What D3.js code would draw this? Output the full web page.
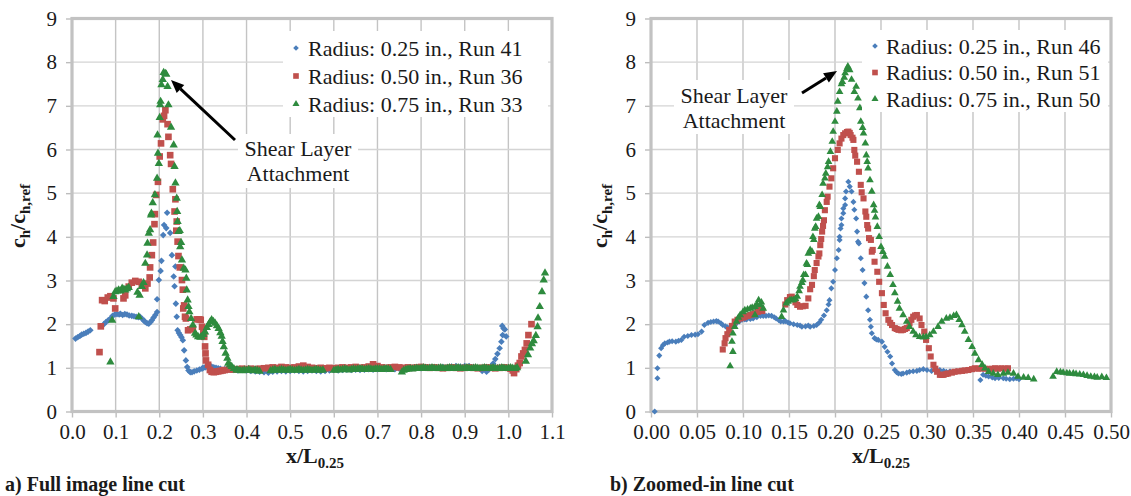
<!DOCTYPE html>
<html><head><meta charset="utf-8">
<script src="https://cdn.jsdelivr.net/npm/d3@7"></script>
<style>
body{margin:0;background:#fff}
svg{display:block}
text{font-family:"Liberation Serif","Tinos","Times New Roman","Times","Nimbus Roman","DejaVu Serif",serif;fill:#1a1a1a}
</style></head>
<body><svg id="chart" width="1131" height="496"></svg>
<script>
// ---------------- DATA ----------------
const seriesNamesA = ["Radius: 0.25 in., Run 41","Radius: 0.50 in., Run 36","Radius: 0.75 in., Run 33"];
const seriesNamesB = ["Radius: 0.25 in., Run 46","Radius: 0.50 in., Run 51","Radius: 0.75 in., Run 50"];
const xTicksA = [0,0.1,0.2,0.3,0.4,0.5,0.6,0.7,0.8,0.9,1.0,1.1];
const xTicksB = [0,0.05,0.10,0.15,0.20,0.25,0.30,0.35,0.40,0.45,0.50];
const yTicks = [0,1,2,3,4,5,6,7,8,9];
const xTitle = "x/L", xTitleSub = "0.25";
const captionA = "a) Full image line cut", captionB = "b) Zoomed-in line cut";
const annotationLines = ["Shear Layer","Attachment"];

const leftBlue = [[0.008,1.67],[0.013,1.70],[0.018,1.73],[0.022,1.76],[0.027,1.78],[0.032,1.80],[0.037,1.83],[0.042,1.86],
[0.073,2.00],[0.078,2.05],[0.083,2.09],[0.088,2.13],[0.093,2.19],[0.098,2.22],[0.103,2.23],[0.108,2.22],[0.111,2.24],[0.116,2.21],[0.121,2.23],[0.126,2.22],[0.131,2.20],[0.137,2.19],[0.142,2.18],[0.147,2.17],[0.152,2.16],[0.156,2.17],[0.161,2.12],[0.165,2.08],[0.168,2.05],[0.172,2.02],[0.176,2.01],[0.180,2.05],[0.183,2.09],[0.187,2.15],[0.191,2.21],[0.195,2.28],
[0.195,2.57],[0.199,3.01],[0.203,3.22],[0.205,3.45],[0.209,4.04],[0.211,4.27],[0.216,4.20],[0.218,4.55],[0.225,4.09],[0.229,3.58],[0.233,3.09],[0.235,2.87],[0.237,3.32],[0.238,2.47],[0.240,2.17],[0.242,1.86],[0.245,1.80],[0.248,1.75],[0.251,1.70],[0.254,1.63],[0.257,1.40],[0.261,1.17],[0.264,1.02],[0.267,0.94],[0.271,0.90],[0.275,0.90],[0.280,0.92],[0.286,0.94],[0.292,0.96],[0.298,0.98],
[0.30,1.00],[0.305,1.01],[0.31,1.02],[0.315,1.03],[0.32,1.03],[0.325,1.01],[0.33,1.00],[0.335,0.99],[0.34,0.98],[0.35,0.97],[0.36,0.96],[0.37,0.95],[0.38,0.94],[0.39,0.95],[0.40,0.94],[0.41,0.93],[0.42,0.92],[0.43,0.91],[0.44,0.90],[0.45,0.89],[0.46,0.91],[0.47,0.92],[0.48,0.93],[0.49,0.92],[0.50,0.93],[0.51,0.94],[0.52,0.93],[0.53,0.92],[0.54,0.93],[0.55,0.94],[0.56,0.93],[0.57,0.92],[0.58,0.93],[0.59,0.94],[0.60,0.95],[0.61,0.94],[0.62,0.95],[0.63,0.96],[0.64,0.95],[0.65,0.96],[0.66,0.95],[0.67,0.96],[0.68,0.97],[0.69,0.96],[0.70,0.97],[0.71,0.98],[0.72,0.97],[0.73,0.98],[0.74,0.97],[0.75,0.98],[0.76,0.99],[0.77,0.98],[0.78,0.99],[0.79,1.00],[0.80,0.99],[0.81,1.00],[0.82,1.01],[0.83,1.00],[0.84,1.01],[0.85,1.02],[0.86,1.01],[0.87,1.03],[0.88,1.04],[0.89,1.03],[0.90,1.04],[0.91,1.04],[0.92,1.02],[0.93,1.00],[0.94,0.93],[0.95,0.91],[0.955,0.96],[0.96,1.02],[0.965,1.10],[0.97,1.20],[0.975,1.32],[0.98,1.45],[0.984,1.60],[0.987,1.75],[0.989,1.90],[0.986,1.96],[0.992,1.88],[0.995,1.72]];

const leftRed = [[0.063,1.36],[0.066,1.95],[0.069,2.55],[0.075,2.53],[0.082,2.61],[0.088,2.64],[0.095,2.59],[0.099,2.36],[0.118,2.59],[0.122,2.66],[0.130,2.86],[0.137,2.95],[0.145,2.99],[0.153,2.97],[0.160,2.89],[0.168,2.82],[0.173,2.93],[0.178,3.07],[0.179,3.30],[0.183,3.58],[0.186,3.87],[0.189,4.29],[0.190,4.52],[0.193,4.96],[0.197,5.26],[0.201,5.84],[0.204,6.14],[0.208,6.69],[0.211,6.77],[0.214,6.90],[0.219,6.58],[0.221,6.29],[0.225,5.87],[0.227,5.67],[0.231,5.09],[0.235,4.58],[0.237,4.86],[0.239,4.14],[0.240,4.35],[0.242,3.89],[0.244,3.56],[0.247,3.30],[0.252,3.01],[0.254,2.79],[0.255,2.36],[0.257,2.43],[0.259,2.17],[0.261,2.13],[0.266,1.86],[0.271,1.88],[0.277,1.90],[0.286,2.11],[0.292,2.11],[0.295,2.10],[0.298,1.94],[0.301,1.79],[0.303,1.71],[0.305,1.49],[0.306,1.33],[0.307,1.17],[0.312,1.07],[0.316,0.95],[0.320,0.91],
[0.325,0.90],[0.33,0.91],[0.335,0.92],[0.34,0.93],[0.345,0.94],[0.35,0.95],[0.36,0.96],[0.37,0.96],[0.38,0.97],[0.39,0.98],[0.40,0.97],[0.41,0.98],[0.42,0.97],[0.43,0.98],[0.44,0.99],[0.45,1.00],[0.46,1.01],[0.47,1.00],[0.48,1.02],[0.49,1.01],[0.50,1.00],[0.51,1.01],[0.52,1.03],[0.53,1.05],[0.54,1.02],[0.55,1.00],[0.56,0.99],[0.57,1.00],[0.58,0.99],[0.59,1.00],[0.60,0.99],[0.61,1.00],[0.62,1.01],[0.63,1.00],[0.64,1.01],[0.65,1.02],[0.66,1.00],[0.67,1.01],[0.68,1.03],[0.69,1.08],[0.70,1.04],[0.71,1.01],[0.72,1.00],[0.73,1.01],[0.74,1.02],[0.75,1.01],[0.76,1.00],[0.77,1.01],[0.78,1.00],[0.79,1.01],[0.80,1.02],[0.81,1.01],[0.82,1.00],[0.83,1.01],[0.84,1.00],[0.85,0.99],[0.86,1.00],[0.87,1.01],[0.88,1.00],[0.89,0.99],[0.90,1.00],[0.91,1.01],[0.92,1.00],[0.93,0.99],[0.94,1.00],[0.95,1.01],[0.96,1.00],[0.97,0.99],[0.98,1.00],[0.99,1.01],[1.00,1.00],[1.005,0.98],[1.01,0.94],[1.013,0.88],[1.018,0.97],[1.022,1.05],[1.026,1.11],[1.03,1.26],[1.034,1.33],[1.038,1.41],[1.042,1.56],[1.046,1.75],[1.053,2.00]];

const leftGreen = [[0.088,1.13],[0.092,2.09],[0.095,2.63],[0.099,2.74],[0.103,2.76],[0.107,2.78],[0.111,2.76],[0.115,2.82],[0.119,2.80],[0.122,2.78],[0.126,2.81],[0.130,2.84],[0.150,2.73],[0.153,2.17],[0.155,2.66],[0.160,2.86],[0.164,2.95],[0.168,3.39],[0.172,3.58],[0.173,3.85],[0.176,4.08],[0.179,4.16],[0.181,4.50],[0.182,4.54],[0.185,4.78],[0.190,4.96],[0.195,5.34],[0.199,5.68],[0.197,5.91],[0.196,6.33],[0.201,6.73],[0.202,7.02],[0.203,7.10],[0.205,7.48],[0.208,7.60],[0.210,7.76],[0.214,7.74],[0.216,7.72],[0.219,7.44],[0.221,7.02],[0.227,6.51],[0.233,6.10],[0.235,5.61],[0.237,5.23],[0.240,4.88],[0.241,4.58],[0.242,4.35],[0.244,4.12],[0.247,4.14],[0.248,3.77],[0.250,3.87],[0.252,3.47],[0.256,3.28],[0.260,3.24],[0.262,3.05],[0.263,2.78],[0.265,2.55],[0.267,2.40],[0.269,2.28],[0.273,2.13],[0.277,1.98],[0.282,1.79],[0.285,1.75],[0.289,1.71],[0.294,1.70],[0.297,1.71],[0.301,1.76],[0.305,1.82],[0.309,1.92],[0.313,1.99],[0.317,2.06],[0.320,2.10],[0.324,2.06],[0.328,2.02],[0.332,1.96],[0.336,1.90],[0.340,1.80],[0.343,1.72],[0.345,1.60],[0.348,1.48],[0.352,1.33],[0.356,1.22],[0.358,1.10],[0.362,1.06],[0.366,1.03],[0.371,0.98],[0.377,0.95],
[0.38,0.95],[0.385,0.94],[0.39,0.93],[0.395,0.95],[0.40,0.94],[0.405,0.96],[0.41,0.94],[0.415,0.93],[0.42,0.95],[0.425,0.94],[0.43,0.92],
[0.455,0.93],[0.46,0.95],[0.465,0.96],[0.47,0.94],[0.475,0.95],[0.48,0.96],[0.485,0.95],[0.49,0.94],[0.495,0.95],[0.50,0.96],[0.505,0.95],[0.51,0.94],[0.515,0.95],[0.52,0.96],[0.525,0.95],[0.53,0.94],[0.535,0.95],[0.54,0.96],[0.545,0.95],[0.55,0.94],[0.555,0.95],[0.56,0.96],[0.565,0.95],[0.57,0.94],[0.575,0.95],
[0.60,0.94],[0.605,0.95],[0.61,0.96],[0.615,0.95],[0.62,0.96],[0.625,0.97],[0.63,0.96],[0.635,0.95],[0.64,0.96],[0.645,0.97],[0.65,0.96],[0.655,0.97],[0.66,0.98],[0.665,0.97],[0.67,0.96],[0.675,0.97],[0.68,0.98],[0.685,0.97],[0.69,0.96],[0.695,0.97],[0.70,0.98],[0.705,0.97],[0.71,0.96],[0.715,0.97],[0.72,0.98],[0.725,0.97],[0.73,0.96],
[0.756,0.90],[0.76,0.94],[0.765,0.96],[0.77,0.97],[0.775,0.98],[0.78,0.97],[0.785,0.98],[0.79,0.99],[0.795,0.98],[0.80,0.99],[0.805,1.00],[0.81,0.99],[0.815,0.98],[0.82,0.99],[0.825,1.00],[0.83,0.99],[0.835,0.98],[0.84,0.99],[0.845,1.00],[0.85,0.99],[0.855,0.98],[0.86,0.99],[0.865,1.00],[0.87,0.99],[0.875,0.98],[0.88,0.99],[0.885,1.00],[0.89,0.99],[0.895,0.98],[0.90,0.99],[0.905,1.00],[0.91,0.99],[0.915,0.98],[0.92,0.99],[0.925,1.00],[0.93,0.99],[0.935,0.98],[0.94,0.99],[0.945,1.00],[0.95,0.99],[0.955,0.98],[0.96,0.99],[0.965,1.00],[0.97,0.99],[0.975,0.98],[0.98,0.99],[0.985,1.00],[0.99,0.99],[0.995,0.98],[1.00,0.99],[1.005,1.00],[1.01,0.99],[1.015,0.98],[1.02,1.00],
[1.04,1.15],[1.045,1.30],[1.05,1.45],[1.054,1.55],[1.058,1.62],[1.063,1.74],[1.067,1.94],[1.068,2.14],[1.072,2.40],[1.077,2.74],[1.081,3.01],[1.084,3.17]];

const rightBlue = [[0.004,0.00],[0.007,0.76],[0.007,0.99],[0.009,1.28],[0.011,1.45],[0.013,1.52],[0.015,1.56],[0.018,1.58],[0.020,1.60],[0.023,1.61],[0.027,1.60],[0.030,1.62],[0.033,1.64],[0.036,1.71],[0.040,1.73],[0.044,1.75],[0.048,1.76],[0.051,1.77],[0.055,1.83],[0.058,1.98],[0.062,2.03],[0.065,2.05],[0.068,2.06],[0.071,2.07],[0.073,2.06],[0.076,2.02],[0.078,1.98],[0.081,1.95],[0.083,1.93],[0.086,1.93],[0.088,1.94],[0.091,1.98],[0.093,2.02],[0.096,2.06],[0.099,2.10],[0.102,2.11],[0.104,2.11],[0.108,2.12],[0.111,2.13],[0.115,2.16],[0.119,2.19],[0.122,2.19],[0.125,2.19],[0.128,2.20],[0.131,2.19],[0.134,2.16],[0.136,2.13],[0.139,2.09],[0.141,2.06],[0.144,2.06],[0.146,2.07],[0.149,2.04],[0.151,2.02],[0.155,2.00],[0.159,1.98],[0.162,1.97],[0.164,1.94],[0.168,1.95],[0.171,1.97],[0.173,1.94],[0.177,1.96],[0.180,1.98],[0.183,2.04],[0.185,2.10],[0.188,2.20],[0.191,2.32],[0.193,2.45],[0.194,2.55],[0.196,2.82],[0.198,2.97],[0.200,3.24],[0.202,3.51],[0.204,3.70],[0.205,3.93],[0.205,4.00],[0.206,4.19],[0.207,4.27],[0.207,4.42],[0.209,4.54],[0.209,4.65],[0.211,4.73],[0.211,4.88],[0.212,5.04],[0.2145,5.26],[0.216,5.15],[0.218,5.04],[0.220,4.80],[0.221,4.62],[0.223,4.42],[0.224,4.12],[0.225,3.89],[0.226,3.85],[0.228,3.51],[0.230,3.24],[0.232,2.94],[0.234,2.63],[0.236,2.32],[0.238,2.10],[0.239,1.94],[0.240,1.79],[0.243,1.68],[0.245,1.65],[0.247,1.64],[0.251,1.60],[0.254,1.48],[0.257,1.37],[0.260,1.26],[0.262,1.10],[0.265,0.95],[0.267,0.90],[0.269,0.87],[0.272,0.86],[0.274,0.87],[0.278,0.89],[0.281,0.91],[0.285,0.92],[0.289,0.93],[0.292,0.95],[0.296,0.97],[0.300,0.95],[0.305,0.93],[0.309,0.94],[0.314,0.95],[0.318,0.93],[0.321,0.91],[0.325,0.92],[0.329,0.91],[0.332,0.92],[0.336,0.93],[0.340,0.94],[0.343,0.95],[0.347,0.96],[0.350,0.97],[0.358,0.72],[0.361,0.84],[0.364,0.82],[0.367,0.80],[0.371,0.78],[0.374,0.76],[0.378,0.77],[0.383,0.76],[0.386,0.75],[0.390,0.74],[0.394,0.75],[0.397,0.76],[0.400,0.74]];

const rightRed = [[0.078,1.42],[0.080,1.56],[0.081,1.68],[0.083,1.77],[0.085,1.87],[0.088,1.96],[0.091,2.06],[0.094,2.10],[0.097,2.13],[0.100,2.15],[0.102,2.17],[0.105,2.19],[0.108,2.21],[0.111,2.23],[0.113,2.25],[0.116,2.28],[0.119,2.36],[0.121,2.30],
[0.146,2.45],[0.148,2.55],[0.151,2.62],[0.153,2.63],[0.155,2.59],[0.157,2.50],[0.159,2.44],[0.162,2.40],[0.165,2.41],[0.168,2.42],[0.171,2.59],[0.173,2.80],[0.175,2.90],[0.177,3.10],[0.178,3.24],[0.180,3.40],[0.182,3.55],[0.183,3.62],[0.184,3.81],[0.185,3.95],[0.186,4.12],[0.187,4.25],[0.188,4.38],[0.189,4.61],[0.191,4.80],[0.192,4.92],[0.194,5.15],[0.196,5.34],[0.198,5.57],[0.200,5.80],[0.203,5.99],[0.205,6.14],[0.207,6.25],[0.209,6.33],[0.211,6.37],[0.213,6.40],[0.2145,6.41],[0.216,6.38],[0.217,6.33],[0.219,6.27],[0.220,6.22],[0.221,5.99],[0.222,5.86],[0.224,5.72],[0.226,5.49],[0.228,5.19],[0.229,5.02],[0.231,4.88],[0.233,4.58],[0.234,4.46],[0.235,4.27],[0.236,4.19],[0.237,3.97],[0.239,3.93],[0.240,3.66],[0.241,3.70],[0.243,3.43],[0.246,3.20],[0.248,2.97],[0.251,2.71],[0.253,2.44],[0.255,2.25],[0.258,2.10],[0.260,2.03],[0.262,1.98],[0.265,1.91],[0.267,1.89],[0.269,1.87],[0.272,1.86],[0.274,1.87],[0.276,1.89],[0.278,1.91],[0.281,2.02],[0.283,2.10],[0.285,2.17],[0.287,2.20],[0.289,2.21],[0.292,2.13],[0.294,1.98],[0.297,1.83],[0.299,1.64],[0.302,1.45],[0.304,1.26],[0.307,1.07],[0.309,0.98],[0.311,0.91],[0.314,0.84],[0.316,0.84],[0.318,0.84],[0.321,0.86],[0.323,0.87],[0.327,0.89],[0.330,0.91],[0.334,0.92],[0.338,0.93],[0.341,0.94],[0.345,0.95],[0.349,0.97],[0.352,0.99],[0.356,0.98],[0.359,0.99],[0.363,0.98],[0.367,0.97],[0.370,0.98],[0.374,0.99],[0.377,0.98],[0.381,0.99],[0.385,0.98],[0.388,0.99]];

const rightGreen = [[0.086,1.04],[0.088,1.60],[0.089,1.37],[0.089,1.79],[0.091,1.94],[0.093,2.06],[0.095,2.15],[0.097,2.21],[0.100,2.28],[0.102,2.32],[0.105,2.34],[0.108,2.36],[0.110,2.38],[0.113,2.40],[0.113,2.21],[0.115,2.45],[0.117,2.55],[0.119,2.44],[0.120,2.50],[0.122,2.36],
[0.142,2.17],[0.144,2.32],[0.147,2.48],[0.149,2.52],[0.151,2.55],[0.153,2.55],[0.155,2.55],[0.157,2.58],[0.159,2.63],[0.161,2.76],[0.162,2.86],[0.164,2.95],[0.165,3.01],[0.166,3.13],[0.168,3.13],[0.169,3.39],[0.170,3.36],[0.171,3.62],[0.173,3.70],[0.175,3.66],[0.176,4.00],[0.177,3.93],[0.178,4.19],[0.179,4.23],[0.180,4.42],[0.182,4.46],[0.183,4.73],[0.184,4.69],[0.186,4.96],[0.187,5.22],[0.189,5.34],[0.190,5.45],[0.192,5.60],[0.193,5.72],[0.195,5.95],[0.197,6.18],[0.198,6.41],[0.200,6.64],[0.202,6.87],[0.203,7.10],[0.205,7.32],[0.207,7.50],[0.208,7.55],[0.210,7.65],[0.211,7.75],[0.213,7.85],[0.214,7.90],[0.216,7.82],[0.218,7.60],[0.221,7.32],[0.223,7.44],[0.225,7.17],[0.227,6.95],[0.228,6.64],[0.230,6.50],[0.231,6.37],[0.233,6.14],[0.234,5.87],[0.235,5.72],[0.236,5.57],[0.238,5.30],[0.240,5.04],[0.242,4.73],[0.243,4.60],[0.244,4.45],[0.246,4.23],[0.248,4.00],[0.250,3.77],[0.252,3.66],[0.254,3.55],[0.257,3.32],[0.260,3.13],[0.263,2.90],[0.265,2.71],[0.268,2.52],[0.270,2.36],[0.274,2.21],[0.278,2.06],[0.281,1.94],[0.285,1.83],[0.288,1.75],[0.292,1.71],[0.296,1.70],[0.299,1.71],[0.303,1.75],[0.307,1.83],[0.312,1.94],[0.316,2.06],[0.321,2.13],[0.325,2.15],[0.329,2.19],[0.332,2.21],[0.335,2.10],[0.338,1.98],[0.341,1.83],[0.345,1.64],[0.349,1.48],[0.352,1.33],[0.356,1.18],[0.360,1.07],[0.363,0.99],[0.367,0.91],[0.372,0.87],[0.377,0.84],[0.383,0.87],[0.388,0.89],[0.394,0.87],[0.399,0.80],[0.405,0.78],[0.410,0.77],[0.416,0.74],
[0.437,0.80],[0.441,0.91],[0.445,0.90],[0.448,0.89],[0.452,0.88],[0.455,0.87],[0.459,0.87],[0.462,0.86],[0.466,0.85],[0.470,0.84],[0.474,0.82],[0.478,0.80],[0.482,0.79],[0.485,0.78],[0.490,0.79],[0.495,0.77]];

// ---------------- LAYOUT ----------------
const FONT = '"Liberation Serif","Tinos","Times New Roman","Times","Nimbus Roman","DejaVu Serif",serif';
const colors = ["#4a7ebb","#c0504d","#2e8b3e"];
const svg = d3.select("#chart");

const panels = [
  {xDomain:[0,1.1], xRange:[72,552], xTicks:xTicksA, fmt:d3.format(".1f"), series:[leftBlue,leftRed,leftGreen], names:seriesNamesA,
   legend:{x0:283,x1:548,y0:31,y1:117,mx:296,tx:308,rows:[48,76,104]},
   note:{cx:298,y0:134,y1:188,lines:[148,173],tail:[235,140],tip:[171,80]},
   yTitleX:25, xTitleCx:315, caption:captionA, capX:5},
  {xDomain:[0,0.5], xRange:[651,1111], xTicks:xTicksB, fmt:d3.format(".2f"), series:[rightBlue,rightRed,rightGreen], names:seriesNamesB,
   legend:{x0:862,x1:1108,y0:30,y1:112,mx:875,tx:886,rows:[46,72.5,99]},
   note:{cx:734,y0:80,y1:134,lines:[95,120],tail:[802,93],tip:[837,71]},
   yTitleX:607, xTitleCx:881, caption:captionB, capX:610}
];

function markerPath(i, s){
  if(i===0){ const r=3.3*s; return `M0,${-r}L${r},0L0,${r}L${-r},0Z`; }
  if(i===1){ return d3.symbol(d3.symbolSquare, 44*s*s)(); }
  return d3.symbol(d3.symbolTriangle, 30*s*s)();
}

panels.forEach(p=>{
  const x = d3.scaleLinear().domain(p.xDomain).range(p.xRange);
  const y = d3.scaleLinear().domain([0,9]).range([411.5,18.5]);
  const g = svg.append("g");
  const [xl,xr] = p.xRange, yt=18.5, yb=411.5;

  g.append("g").selectAll("line").data(p.xTicks.slice(1,-1)).join("line")
    .attr("x1",d=>x(d)).attr("x2",d=>x(d)).attr("y1",yt).attr("y2",yb)
    .attr("stroke","#c4c4c4").attr("stroke-width",1.4);
  g.append("g").selectAll("line").data(yTicks.slice(1,-1)).join("line")
    .attr("y1",d=>y(d)).attr("y2",d=>y(d)).attr("x1",xl).attr("x2",xr)
    .attr("stroke","#d4d4d4").attr("stroke-width",1.4);

  const ax = g.append("g").attr("transform",`translate(0,${yb})`)
    .call(d3.axisBottom(x).tickValues(p.xTicks).tickFormat(p.fmt).tickSize(6).tickPadding(7));
  const ay = g.append("g").attr("transform",`translate(${xl},0)`)
    .call(d3.axisLeft(y).tickValues(yTicks).tickFormat(d3.format("d")).tickSize(6).tickPadding(9));
  [ax,ay].forEach(a=>{
    a.select(".domain").remove();
    a.attr("font-family",null).attr("font-size",null);
    a.selectAll("line").attr("stroke","#bdbdbd").attr("stroke-width",1.4);
    a.selectAll("text").style("font-family",FONT).style("font-size","21px").attr("fill","#1a1a1a");
  });

  g.append("rect").attr("x",xl).attr("y",yt).attr("width",xr-xl).attr("height",yb-yt)
    .attr("fill","none").attr("stroke","#c2c2c2").attr("stroke-width",3.2);

  p.series.forEach((s,i)=>{
    const sc = (p.xDomain[1]<1)?0.92:1;
    const path = markerPath(i, sc);
    g.append("g").selectAll("path").data(s).join("path")
      .attr("d",path).attr("fill",colors[i])
      .attr("transform",d=>`translate(${x(d[0])},${y(d[1])})`);
  });

  const L = p.legend;
  const lg = g.append("g");
  lg.append("rect").attr("x",L.x0).attr("y",L.y0).attr("width",L.x1-L.x0).attr("height",L.y1-L.y0).attr("fill","#fff");
  p.names.forEach((n,i)=>{
    lg.append("path").attr("d",markerPath(i,0.85)).attr("fill",colors[i]).attr("transform",`translate(${L.mx},${L.rows[i]})`);
    lg.append("text").attr("x",L.tx).attr("y",L.rows[i]).attr("dy","0.35em").style("font-size","22px").text(n);
  });

  const N = p.note;
  const ng = g.append("g");
  ng.append("rect").attr("x",N.cx-60).attr("y",N.y0).attr("width",120).attr("height",N.y1-N.y0).attr("fill","#fff");
  annotationLines.forEach((t,i)=>{
    ng.append("text").attr("x",N.cx).attr("y",N.lines[i]).attr("dy","0.35em").attr("text-anchor","middle").style("font-size","22px").text(t);
  });
  const [tx,ty]=N.tail,[hx,hy]=N.tip;
  const ang=Math.atan2(hy-ty,hx-tx), hl=13, hw=5.5;
  const bx=hx-hl*Math.cos(ang), by=hy-hl*Math.sin(ang);
  ng.append("line").attr("x1",tx).attr("y1",ty).attr("x2",bx).attr("y2",by).attr("stroke","#000").attr("stroke-width",3);
  ng.append("path").attr("fill","#000").attr("d",
    `M${hx},${hy}L${bx+hw*Math.sin(ang)},${by-hw*Math.cos(ang)}L${bx-hw*Math.sin(ang)},${by+hw*Math.cos(ang)}Z`);

  const xt = g.append("text").attr("x",p.xTitleCx).attr("y",463).attr("text-anchor","middle")
    .style("font-size","22px").style("font-weight","bold");
  xt.append("tspan").text(xTitle);
  xt.append("tspan").style("font-size","15px").attr("dy",5).text(xTitleSub);

  const yt2 = g.append("text").attr("transform",`translate(${p.yTitleX},216) rotate(-90)`).attr("text-anchor","middle")
    .style("font-size","22px").style("font-weight","bold");
  yt2.append("tspan").text("c");
  yt2.append("tspan").style("font-size","15px").attr("dy",5).text("h");
  yt2.append("tspan").attr("dy",-5).text("/c");
  yt2.append("tspan").style("font-size","15px").attr("dy",5).text("h,ref");

  g.append("text").attr("x",p.capX).attr("y",491).style("font-size","20px").style("font-weight","bold").text(p.caption);
});
</script>
</body></html>
